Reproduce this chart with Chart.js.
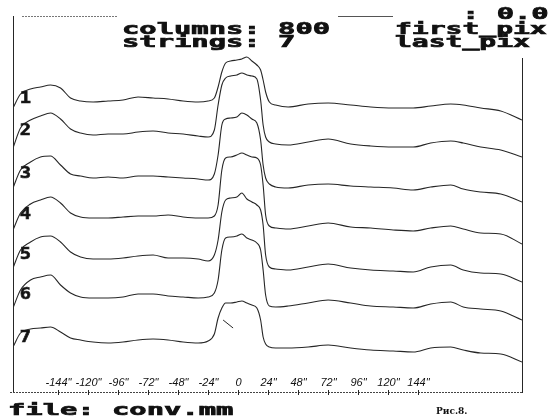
<!DOCTYPE html>
<html>
<head>
<meta charset="utf-8">
<title>conv.mm</title>
<script src="https://cdn.jsdelivr.net/npm/chart.js@4.4.1/dist/chart.umd.min.js"></script>
<style>
  html, body { margin: 0; padding: 0; background: #fff; }
  canvas { display: block; }
</style>
</head>
<body>
<canvas id="myChart" width="555" height="418"></canvas>
<script>
// position along the scan line, inches
const positions = [-180, -174, -166, -158, -150, -142, -134, -126, -116, -104, -92, -80, -68, -56, -44, -32, -24, -19, -16, -13,
  -10, -6, -1, 3, 7, 11, 15, 18, 20, 22, 25, 30, 40, 56, 72, 90, 106, 124, 140, 154, 170, 180, 194, 210, 227];

// one profile per string, already stacked
const string1 = [284, 298, 303, 305, 307, 304, 294, 291, 290, 291, 292, 295, 294, 293, 291, 290, 291, 294, 305, 320,
  329, 331, 332, 333, 335, 331, 327, 322, 312, 300, 290, 287, 285, 288, 289, 287, 285, 284, 284, 286, 288, 287, 284, 281, 272];
const string2 = [244, 264, 272, 276, 279, 273, 263, 259, 257, 258, 258, 260, 261, 259, 258, 256, 255, 262, 287, 307,
  314, 316, 317, 319, 317, 316, 313, 292, 267, 255, 250, 248, 247, 250, 253, 248, 246, 245, 245, 249, 251, 249, 245, 242, 235];
const string3 = [204, 222, 230, 235, 236, 227, 218, 216, 214, 215, 214, 216, 216, 215, 214, 213, 212, 218, 237, 267,
  273, 274, 275, 279, 277, 273, 269, 252, 227, 214, 208, 205, 204, 207, 208, 206, 205, 204, 202, 205, 207, 203, 200, 198, 190];
const string4 = [162, 179, 188, 192, 195, 189, 179, 175, 174, 174, 175, 176, 176, 177, 175, 174, 174, 176, 187, 222,
  234, 235, 237, 239, 237, 235, 234, 227, 207, 177, 166, 164, 163, 166, 169, 165, 164, 162, 161, 164, 166, 163, 159, 158, 148];
const string5 = [124, 142, 150, 155, 156, 150, 140, 135, 133, 133, 134, 136, 137, 134, 134, 133, 131, 137, 152, 180,
  192, 194, 195, 199, 193, 190, 187, 182, 167, 137, 125, 123, 122, 125, 128, 124, 122, 121, 120, 125, 127, 122, 119, 118, 110];
const string6 = [84, 102, 112, 115, 117, 107, 99, 95, 94, 94, 95, 98, 98, 96, 95, 94, 95, 99, 112, 142,
  154, 155, 156, 158, 154, 152, 149, 142, 122, 97, 86, 85, 86, 89, 92, 89, 86, 85, 84, 88, 90, 85, 83, 81, 72];
const string7 = [45, 59, 63, 64, 65, 60, 54, 52, 50, 49, 50, 52, 53, 52, 50, 49, 51, 58, 74, 84,
  89, 89, 90, 91, 89, 87, 84, 72, 55, 48, 45, 44, 44, 45, 47, 44, 42, 41, 40, 44, 45, 42, 39, 38, 30];

const strings = [string1, string2, string3, string4, string5, string6, string7];
const stringNames = ['1', '2', '3', '4', '5', '6', '7'];

// little pen slip inside the last profile
const slipX = [-12, -4];
const slipY = [72, 64];

const tickValues = [-144, -120, -96, -72, -48, -24, 0, 24, 48, 72, 96, 120, 144];
const tickLabels = ['-144"', '-120"', '-96"', '-72"', '-48"', '-24"', '0', '24"', '48"', '72"', '96"', '120"', '144"'];

const INK = '#262626';

// heavy, stretched printer lettering
function wideText(ctx, text, x, y, font, sx) {
    ctx.save();
    ctx.font = font;
    ctx.translate(x, y);
    ctx.scale(sx, 1);
    ctx.lineWidth = 0.7;
    ctx.strokeStyle = '#111';
    ctx.fillText(text, 0, 0);
    ctx.strokeText(text, 0, 0);
    ctx.restore();
}

const printout = {
    id: 'printout',
    afterDraw(chart) {
        const ctx = chart.ctx;
        const a = chart.chartArea;
        const xs = chart.scales.x;
        const ys = chart.scales.y;
        ctx.save();
        ctx.strokeStyle = INK;
        ctx.fillStyle = '#111';
        ctx.lineWidth = 1;

        // frame sides
        ctx.beginPath();
        ctx.moveTo(a.left + 0.5, a.top - 2);
        ctx.lineTo(a.left + 0.5, a.bottom + 1);
        ctx.moveTo(a.right + 0.5, a.top + 40);
        ctx.lineTo(a.right + 0.5, a.bottom + 1);
        ctx.stroke();

        // broken top edge
        ctx.strokeStyle = '#777';
        ctx.setLineDash([2, 1]);
        ctx.beginPath();
        ctx.moveTo(22, a.top - 1.5);
        ctx.lineTo(117, a.top - 1.5);
        ctx.stroke();
        ctx.setLineDash([]);
        ctx.strokeStyle = '#555';
        ctx.beginPath();
        ctx.moveTo(338, a.top - 1.5);
        ctx.lineTo(393, a.top - 1.5);
        ctx.stroke();

        // bottom axis, dotted
        ctx.strokeStyle = '#444';
        ctx.setLineDash([2, 1]);
        ctx.beginPath();
        ctx.moveTo(a.left - 3, a.bottom + 0.5);
        ctx.lineTo(a.right, a.bottom + 0.5);
        ctx.stroke();
        ctx.setLineDash([]);

        // ticks and labels
        ctx.strokeStyle = INK;
        ctx.font = 'italic 11px "Liberation Sans"';
        ctx.textAlign = 'center';
        ctx.textBaseline = 'alphabetic';
        tickValues.forEach((v, i) => {
            const px = Math.round(xs.getPixelForValue(v)) + 0.5;
            ctx.beginPath();
            ctx.moveTo(px, a.bottom - 2);
            ctx.lineTo(px, a.bottom + 3);
            ctx.stroke();
            ctx.fillText(tickLabels[i], px, a.bottom - 6);
        });

        // string numbers at the left end of each profile
        ctx.textAlign = 'center';
        ctx.textBaseline = 'middle';
        const lx = xs.getPixelForValue(-170);
        strings.forEach((s, i) => {
            const py = ys.getPixelForValue(s[7]) - 2;
            ctx.save();
            ctx.translate(lx, py);
            ctx.scale(1.25, 1);
            ctx.font = 'bold 15px "DejaVu Sans Mono"';
            ctx.lineWidth = 0.6;
            ctx.fillText(stringNames[i], 0, 0);
            ctx.strokeText(stringNames[i], 0, 0);
            ctx.restore();
        });

        // header and footer text
        ctx.textAlign = 'left';
        ctx.textBaseline = 'alphabetic';
        const f = 'bold 16px "DejaVu Sans Mono"';
        wideText(ctx, 'columns: 800', 122, 34, f, 1.8);
        wideText(ctx, 'strings: 7', 122, 47, f, 1.8);
        wideText(ctx, 'first_pix', 395, 34, f, 1.75);
        wideText(ctx, 'last_pix', 395, 47, f, 1.75);
        wideText(ctx, ': 0.0', 462, 19, f, 1.8);
        wideText(ctx, 'file: conv.mm', 8, 415, f, 1.8);
        ctx.font = 'bold 9px "DejaVu Serif"';
        ctx.fillText('Рис.8.', 436, 414);
        ctx.restore();
    }
};

const datasets = strings.map((s, i) => ({
    label: stringNames[i],
    data: positions.map((p, j) => ({ x: p, y: s[j] })),
    borderColor: INK,
    borderWidth: 1.1,
    pointRadius: 0,
    fill: false,
    cubicInterpolationMode: 'monotone'
}));

datasets.push({
    label: 'slip',
    data: slipX.map((p, j) => ({ x: p, y: slipY[j] })),
    borderColor: INK,
    borderWidth: 1,
    pointRadius: 0,
    fill: false
});

new Chart(document.getElementById('myChart'), {
    type: 'line',
    data: { datasets: datasets },
    options: {
        responsive: false,
        animation: false,
        events: [],
        layout: { padding: { left: 13, right: 33, top: 18, bottom: 26 } },
        plugins: {
            legend: { display: false },
            tooltip: { enabled: false }
        },
        scales: {
            x: { type: 'linear', display: false, min: -180, max: 227 },
            y: { type: 'linear', display: false, min: 0, max: 374 }
        }
    },
    plugins: [printout]
});
</script>
</body>
</html>
